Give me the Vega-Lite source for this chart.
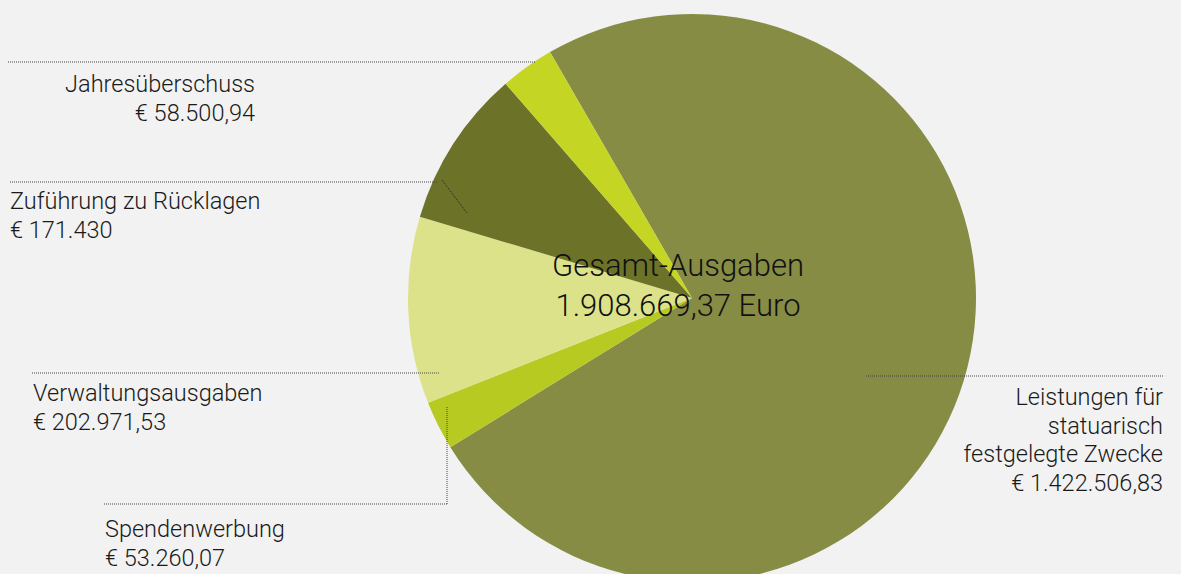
{
  "$schema": "https://vega.github.io/schema/vega-lite/v6.json",
  "width": 1181,
  "height": 574,
  "autosize": {"type": "fit", "contains": "padding"},
  "padding": 0,
  "background": "#f2f2f2",
  "config": {"view": {"stroke": null}, "text": {"font": "Roboto", "fontWeight": 300, "color": "#1a1a1a"}},
  "data": {"values": [
    {"category": "Leistungen", "rank": 1, "value": 1422506.83, "label": "Leistungen für\nstatuarisch\nfestgelegte Zwecke\n€ 1.422.506,83"},
    {"category": "Spendenwerbung", "rank": 2, "value": 53260.07, "label": "Spendenwerbung\n€ 53.260,07"},
    {"category": "Verwaltungsausgaben", "rank": 3, "value": 202971.53, "label": "Verwaltungsausgaben\n€ 202.971,53"},
    {"category": "Zuführung zu Rücklagen", "rank": 4, "value": 171430, "label": "Zuführung zu Rücklagen\n€ 171.430"},
    {"category": "Jahresüberschuss", "rank": 5, "value": 58500.94, "label": "Jahresüberschuss\n€ 58.500,94"}
  ]},
  "layer": [
    {
      "mark": {"type": "arc", "outerRadius": 284, "clip": true},
      "encoding": {
        "theta": {"field": "value", "type": "quantitative", "stack": true, "scale": {"range": [-0.5236, 5.7596]}},
        "order": {"field": "rank", "type": "quantitative"},
        "color": {"field": "category", "type": "nominal", "legend": null,
          "scale": {"domain": ["Leistungen", "Spendenwerbung", "Verwaltungsausgaben", "Zuführung zu Rücklagen", "Jahresüberschuss"],
                    "range": ["#878c45", "#b6ca22", "#dce28a", "#6c7329", "#c4d524"]}},
        "x": {"datum": 0, "type": "quantitative", "scale": {"domain": [-692, 489], "nice": false, "zero": false}, "axis": null},
        "y": {"datum": 0, "type": "quantitative", "scale": {"domain": [-276, 298], "nice": false, "zero": false}, "axis": null}
      }
    },
    {
      "transform": [{"filter": "datum.category === 'Jahresüberschuss'"}],
      "layer": [
        {"mark": {"type": "rule", "color": "#444", "strokeWidth": 1, "strokeDash": [1, 1]},
         "encoding": {"x": {"datum": -684, "type": "quantitative"}, "x2": {"datum": -156}, "y": {"datum": 236, "type": "quantitative"}, "y2": {"datum": 236}}},
        {"mark": {"type": "text", "align": "right", "baseline": "alphabetic", "fontSize": 23.5, "lineHeight": 29, "lineBreak": "\n"},
         "encoding": {"x": {"datum": -437, "type": "quantitative"}, "y": {"datum": 206, "type": "quantitative"}, "text": {"field": "label"}}}
      ]
    },
    {
      "transform": [{"filter": "datum.category === 'Zuführung zu Rücklagen'"}],
      "layer": [
        {"mark": {"type": "rule", "color": "#444", "strokeWidth": 1, "strokeDash": [1, 1]},
         "encoding": {"x": {"datum": -682, "type": "quantitative"}, "x2": {"datum": -255}, "y": {"datum": 116, "type": "quantitative"}, "y2": {"datum": 116}}},
        {"mark": {"type": "rule", "color": "#222", "strokeWidth": 1, "strokeDash": [1, 1]},
         "encoding": {"x": {"datum": -250, "type": "quantitative"}, "x2": {"datum": -225}, "y": {"datum": 118, "type": "quantitative"}, "y2": {"datum": 85}}},
        {"mark": {"type": "text", "align": "left", "baseline": "alphabetic", "fontSize": 23.5, "lineHeight": 29, "lineBreak": "\n"},
         "encoding": {"x": {"datum": -682, "type": "quantitative"}, "y": {"datum": 89, "type": "quantitative"}, "text": {"field": "label"}}}
      ]
    },
    {
      "transform": [{"filter": "datum.category === 'Verwaltungsausgaben'"}],
      "layer": [
        {"mark": {"type": "rule", "color": "#444", "strokeWidth": 1, "strokeDash": [1, 1]},
         "encoding": {"x": {"datum": -660, "type": "quantitative"}, "x2": {"datum": -253}, "y": {"datum": -75, "type": "quantitative"}, "y2": {"datum": -75}}},
        {"mark": {"type": "text", "align": "left", "baseline": "alphabetic", "fontSize": 23.5, "lineHeight": 29, "lineBreak": "\n"},
         "encoding": {"x": {"datum": -659, "type": "quantitative"}, "y": {"datum": -103, "type": "quantitative"}, "text": {"field": "label"}}}
      ]
    },
    {
      "transform": [{"filter": "datum.category === 'Spendenwerbung'"}],
      "layer": [
        {"mark": {"type": "rule", "color": "#444", "strokeWidth": 1, "strokeDash": [1, 1]},
         "encoding": {"x": {"datum": -588, "type": "quantitative"}, "x2": {"datum": -245}, "y": {"datum": -206, "type": "quantitative"}, "y2": {"datum": -206}}},
        {"mark": {"type": "rule", "color": "#444", "strokeWidth": 1, "strokeDash": [1, 1]},
         "encoding": {"x": {"datum": -245, "type": "quantitative"}, "x2": {"datum": -245}, "y": {"datum": -109, "type": "quantitative"}, "y2": {"datum": -206}}},
        {"mark": {"type": "text", "align": "left", "baseline": "alphabetic", "fontSize": 23.5, "lineHeight": 29, "lineBreak": "\n"},
         "encoding": {"x": {"datum": -587, "type": "quantitative"}, "y": {"datum": -239, "type": "quantitative"}, "text": {"field": "label"}}}
      ]
    },
    {
      "transform": [{"filter": "datum.category === 'Leistungen'"}],
      "layer": [
        {"mark": {"type": "rule", "color": "#444", "strokeWidth": 1, "strokeDash": [1, 1]},
         "encoding": {"x": {"datum": 174, "type": "quantitative"}, "x2": {"datum": 471}, "y": {"datum": -78, "type": "quantitative"}, "y2": {"datum": -78}}},
        {"mark": {"type": "text", "align": "right", "baseline": "alphabetic", "fontSize": 23.5, "lineHeight": 28.5, "lineBreak": "\n"},
         "encoding": {"x": {"datum": 471, "type": "quantitative"}, "y": {"datum": -107, "type": "quantitative"}, "text": {"field": "label"}}}
      ]
    },
    {
      "data": {"values": [{"title": "Gesamt-Ausgaben\n1.908.669,37 Euro"}]},
      "mark": {"type": "text", "align": "center", "baseline": "alphabetic", "fontSize": 31, "lineHeight": 40, "lineBreak": "\n", "color": "#111"},
      "encoding": {"x": {"datum": -14, "type": "quantitative"}, "y": {"datum": 22, "type": "quantitative"}, "text": {"field": "title"}}
    }
  ]
}
